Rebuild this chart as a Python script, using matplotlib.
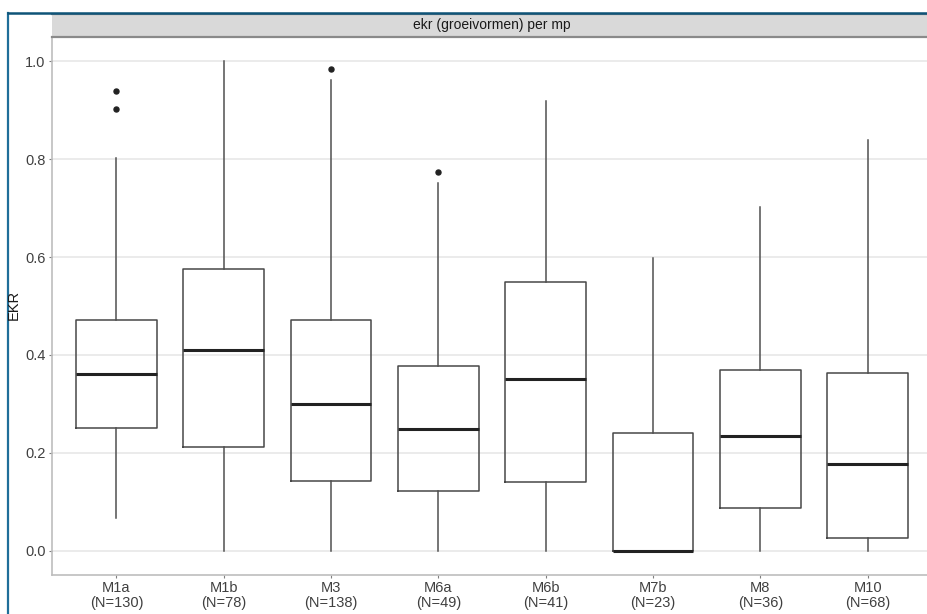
import matplotlib
matplotlib.use("Agg")
import matplotlib.pyplot as plt
from matplotlib.lines import Line2D

plt.rcParams['font.family'] = ['Liberation Sans', 'DejaVu Sans']

# boxplot statistics per measuring point (ekr, groeivormen)
groups = ["M1a", "M1b", "M3", "M6a", "M6b", "M7b", "M8", "M10"]
counts = [130, 78, 138, 49, 41, 23, 36, 68]
q1 = [0.250, 0.212, 0.143, 0.121, 0.140, 0.000, 0.088, 0.026]
med = [0.360, 0.411, 0.299, 0.249, 0.350, 0.000, 0.235, 0.177]
q3 = [0.472, 0.575, 0.472, 0.378, 0.549, 0.241, 0.370, 0.363]
whislo = [0.066, 0.000, 0.000, 0.000, 0.000, 0.000, 0.000, 0.000]
whishi = [0.802, 1.000, 0.963, 0.751, 0.920, 0.599, 0.702, 0.840]
outliers = [[0.939, 0.903], [], [0.984], [0.774], [], [], [], []]

W, H = 928, 614
fig = plt.figure(figsize=(W / 100, H / 100), dpi=100)
fig.patch.set_facecolor("white")

# plot panel (right side runs slightly past the figure edge)
pl, pr, pt, pb = 52, 932, 37, 575
ax = fig.add_axes([pl / W, (H - pb) / H, (pr - pl) / W, (pb - pt) / H])

stats = []
for i, g in enumerate(groups):
    stats.append(dict(label=g, q1=q1[i], med=med[i], q3=q3[i],
                      whislo=whislo[i], whishi=whishi[i], fliers=outliers[i]))

ax.bxp(stats, positions=range(1, len(groups) + 1), widths=0.75,
       showcaps=False, patch_artist=False,
       boxprops=dict(color="#484848", linewidth=1.1),
       whiskerprops=dict(color="#505050", linewidth=1.1),
       medianprops=dict(color="#222222", linewidth=2.2, solid_capstyle="butt"),
       flierprops=dict(marker="o", markersize=3.6, markerfacecolor="#222222",
                       markeredgecolor="#222222"))

ax.set_xlim(0.4, 8.6)
ax.set_ylim(-0.05, 1.05)
ax.set_yticks([0.0, 0.2, 0.4, 0.6, 0.8, 1.0])
ax.set_yticklabels(["0.0", "0.2", "0.4", "0.6", "0.8", "1.0"])
ax.set_xticks(range(1, len(groups) + 1))
ax.set_xticklabels(["%s\n(N=%d)" % (g, n) for g, n in zip(groups, counts)],
                   linespacing=1.05)
ax.yaxis.grid(True, color="#e6e6e6", linewidth=1.1)
ax.set_axisbelow(True)
ax.tick_params(axis="both", length=2.5, width=0.8, color="#7f7f7f",
               labelsize=10.5, labelcolor="#404040", pad=2)
for side in ["top", "right"]:
    ax.spines[side].set_visible(False)
for side in ["left", "bottom"]:
    ax.spines[side].set_color("#bdbdbd")
    ax.spines[side].set_linewidth(1.2)

fig.text(14 / W, 1 - 305 / H, "EKR", rotation=90, ha="center", va="center",
         fontsize=10.5, color="#1a1a1a")

# facet strip
st = fig.add_axes([pl / W, (H - pt) / H, (pr - pl) / W, 23 / H])
st.set_facecolor("#d9d9d9")
st.set_xticks([])
st.set_yticks([])
for side in ["left", "right"]:
    st.spines[side].set_visible(False)
for side in ["top", "bottom"]:
    st.spines[side].set_color("#8a8a8a")
    st.spines[side].set_linewidth(1.6)
st.text(0.5, 0.5, "ekr (groeivormen) per mp", ha="center", va="center",
        fontsize=10, color="#1a1a1a", transform=st.transAxes)

# outer frame
fig.add_artist(Line2D([8.5 / W, 8.5 / W], [0, 1 - 12.5 / H],
                      transform=fig.transFigure, color="#1f6e99", linewidth=1.6))
fig.add_artist(Line2D([8 / W, 1], [1 - 12.5 / H, 1 - 12.5 / H],
                      transform=fig.transFigure, color="#0f5478", linewidth=1.8))

fig.savefig("out.png", dpi=100, facecolor="white")
